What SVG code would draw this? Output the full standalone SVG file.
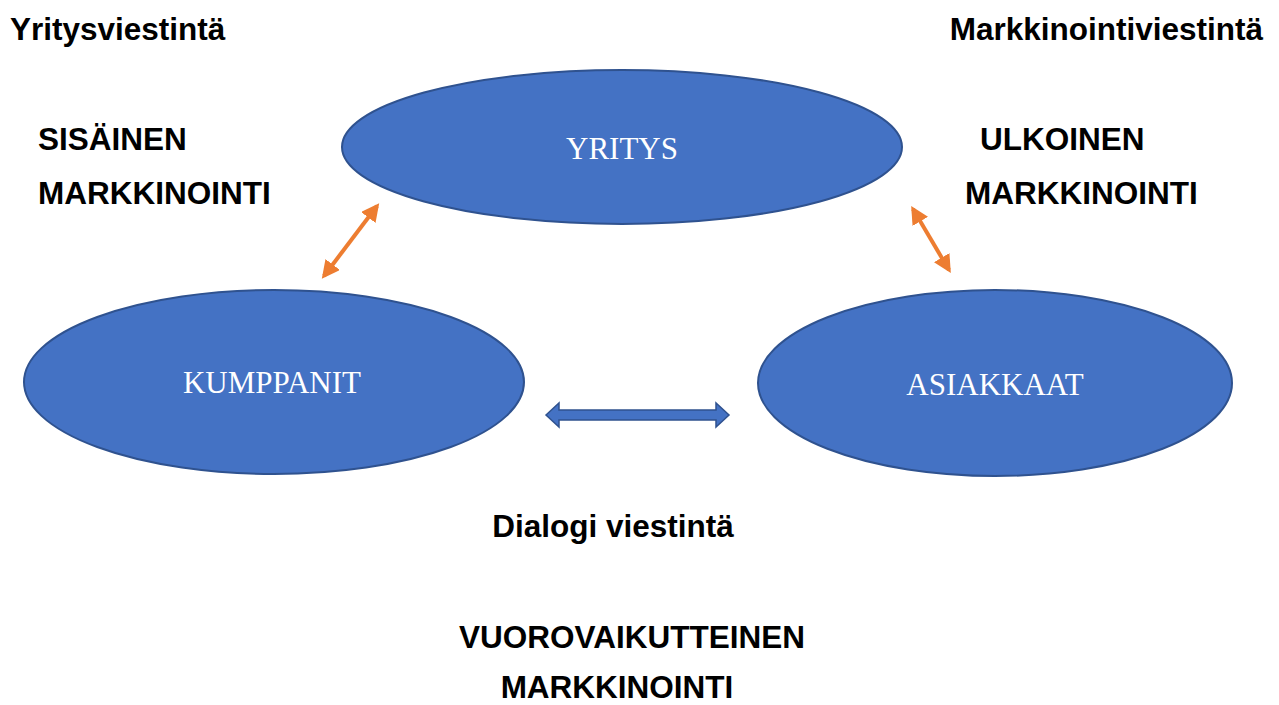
<svg xmlns="http://www.w3.org/2000/svg" width="1279" height="705" viewBox="0 0 1279 705">
<style>
.node{fill:#4472C4;stroke:#2F528F;stroke-width:2}
.nt{font-family:"Liberation Serif",serif;font-size:31px;fill:#fff;text-anchor:middle}
.lb{font-family:"Liberation Sans",Arial,sans-serif;font-size:31.5px;font-weight:bold;fill:#000}
.oa{stroke:#ED7D31;stroke-width:4;fill:none;marker-start:url(#oh);marker-end:url(#oh)}
</style>
<defs>
<marker id="oh" viewBox="0 0 10 10" refX="8" refY="5" markerWidth="4.5" markerHeight="4.5" orient="auto-start-reverse" markerUnits="strokeWidth">
<path d="M0,0 L10,5 L0,10 z" fill="#ED7D31"/>
</marker>
</defs>
<rect width="1279" height="705" fill="#fff"/>
<g id="yritys">
<ellipse class="node" cx="622" cy="147" rx="280" ry="77"/>
<text class="nt" x="622" y="159">YRITYS</text>
</g>
<g id="kumppanit">
<ellipse class="node" cx="274" cy="382" rx="250" ry="92"/>
<text class="nt" x="272" y="393">KUMPPANIT</text>
</g>
<g id="asiakkaat">
<ellipse class="node" cx="995" cy="383" rx="237" ry="93"/>
<text class="nt" x="995" y="395">ASIAKKAAT</text>
</g>
<g id="connectors">
<line class="oa" x1="324" y1="276" x2="377" y2="206"/>
<line class="oa" x1="913" y1="209" x2="949" y2="270"/>
<path d="M546,415 L559,403 L559,410 L716,410 L716,403 L729,415 L716,427 L716,420 L559,420 L559,427 Z" fill="#4472C4" stroke="#2F528F" stroke-width="1.5"/>
</g>
<g id="labels">
<text class="lb" x="10" y="40">Yritysviestintä</text>
<text class="lb" x="1263" y="40" text-anchor="end">Markkinointiviestintä</text>
<text class="lb" x="38" y="150">SISÄINEN</text>
<text class="lb" x="38" y="204">MARKKINOINTI</text>
<text class="lb" x="980" y="150">ULKOINEN</text>
<text class="lb" x="965" y="204">MARKKINOINTI</text>
<text class="lb" x="613" y="537" text-anchor="middle">Dialogi viestintä</text>
<text class="lb" x="632" y="648" text-anchor="middle">VUOROVAIKUTTEINEN</text>
<text class="lb" x="617" y="698" text-anchor="middle">MARKKINOINTI</text>
</g>
</svg>
